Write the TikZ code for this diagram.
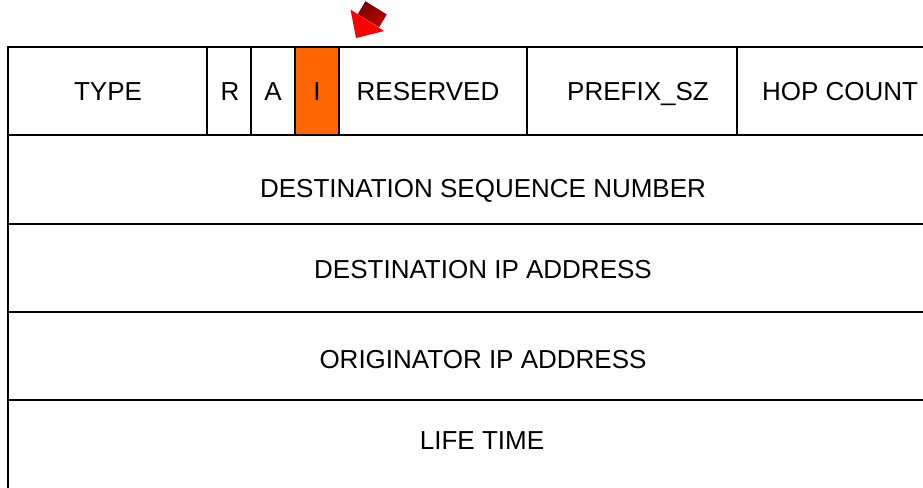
\documentclass[tikz,border=0pt]{standalone}
\usepackage{fontspec}
\setmainfont{Liberation Sans}
\usepackage{xcolor}
\usepackage{tikz}
\usetikzlibrary{positioning}
\definecolor{naranja}{HTML}{FF6600}
\definecolor{rojoosc}{HTML}{7A0000}

\begin{document}
\begin{tikzpicture}[x=1pt, y=-1pt]
\tikzstyle{campo}=[
    draw=black,
    line width=2pt,
    inner sep=0pt,
    minimum height=88pt % Alto de fila
]
\tikzstyle{marcado}=[campo, fill=naranja]
\tikzstyle{texto}=[
    inner sep=0pt,
    text height=18.6pt,
    text depth=0pt,
    font=\fontsize{26}{30}\selectfont
]

\useasboundingbox (0,0) rectangle (923,487);
\clip (0,0) rectangle (923,487);

% Primera fila
\node[campo, minimum width=199pt] (type) at (107.5,91) {};
\node[campo, minimum width=44pt] (r) at (229,91) {};
\node[campo, minimum width=44pt] (a) at (273,91) {};
\node[marcado, minimum width=44pt] (i) at (317,91) {};
\node[campo, minimum width=188pt] (reserved) at (433,91) {};
\node[campo, minimum width=210pt] (prefix) at (632,91) {};
\node[campo, minimum width=206pt] (hop) at (840,91) {};

% Filas completas
\node[campo, minimum width=950pt, minimum height=89pt] (dsn) at (483,179.5) {};
\node[campo, minimum width=950pt] (dip) at (483,268) {};
\node[campo, minimum width=950pt] (oip) at (483,356) {};
\node[campo, minimum width=950pt, minimum height=100pt] (life) at (483,450) {};

% Textos
\node[texto] (ttype) at (108,91) {TYPE};
\node[texto] (tr) at (230,91) {R};
\node[texto] (ta) at (273,91) {A};
\node[texto] (ti) at (317,91) {I};
\node[texto] (treserved) at (428,91) {RESERVED};
\node[texto] (tprefix) at (638,91) {PREFIX\_SZ};
\node[texto] (thop) at (840,91) {HOP COUNT};
\node[texto] (tdsn) at (483,188) {DESTINATION SEQUENCE NUMBER};
\node[texto] (tdip) at (483,269.5) {DESTINATION IP ADDRESS};
\node[texto] (toip) at (483,359.5) {ORIGINATOR IP ADDRESS};
\node[texto] (tlife) at (482,440) {LIFE TIME};

% Flecha
\fill[top color=rojoosc, bottom color=red!75!black, shading angle=30]
    (358,14) -- (365.5,1.5) -- (386.5,14.5) -- (379,27) -- cycle;
\fill[red] (350.5,9.5) -- (384,31) -- (356,38) -- cycle;

\end{tikzpicture}
\end{document}
